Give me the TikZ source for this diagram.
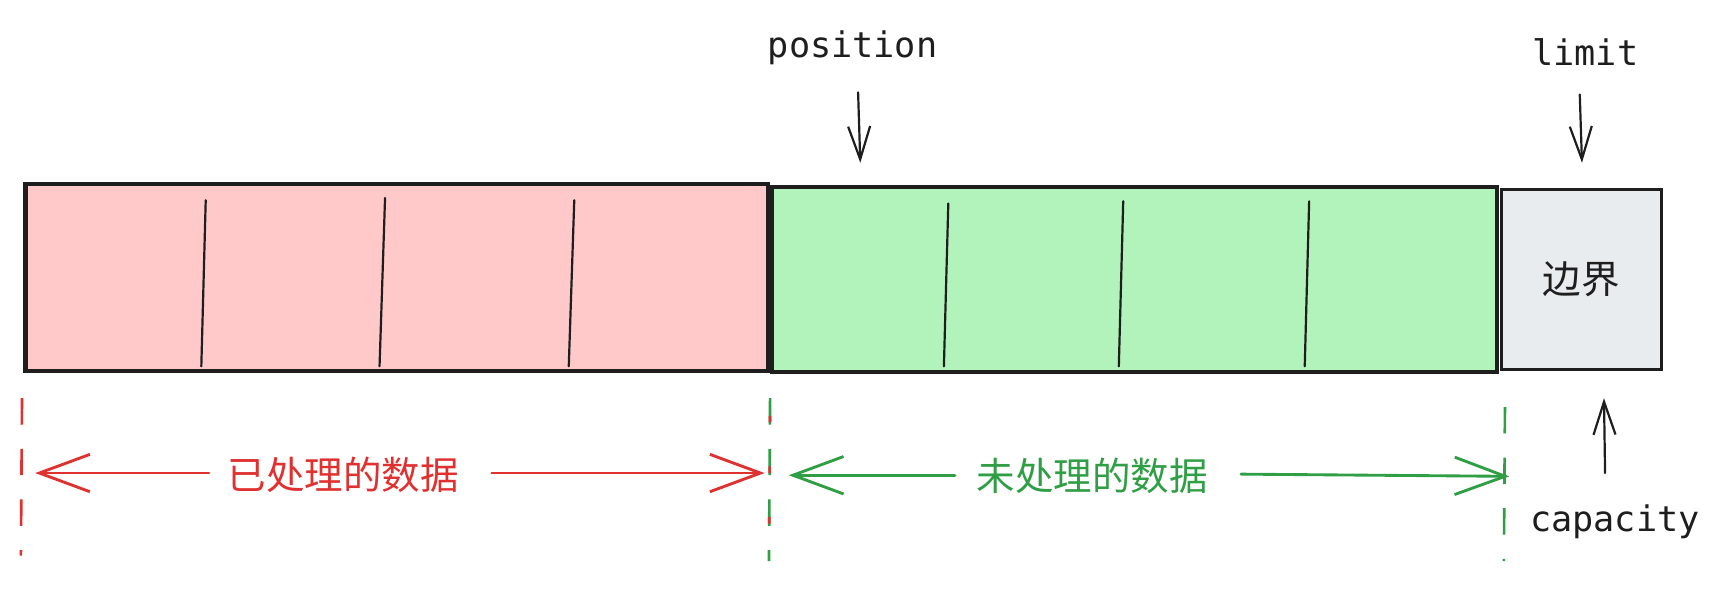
\documentclass[tikz,border=0pt]{standalone}
\usepackage{fontspec}
\newfontfamily\cjk{Noto Sans CJK SC}
\newfontfamily\monof{DejaVu Sans Mono}
\usetikzlibrary{arrows.meta}
\definecolor{ink}{HTML}{1E1E1E}
\definecolor{redink}{HTML}{E03131}
\definecolor{greenink}{HTML}{2F9E44}
\definecolor{redfill}{HTML}{FFC9C9}
\definecolor{greenfill}{HTML}{B2F2BB}
\definecolor{grayfill}{HTML}{E9ECEF}
\tikzset{
  cell/.style={draw=ink, line width=1pt, inner sep=0pt, anchor=center},
  divider/.style={draw=ink, line width=0.5pt, line cap=round},
  monolabel/.style={font=\monof\fontsize{8}{9}\selectfont, text=ink, inner sep=0pt, anchor=base},
  cjklabel/.style={font=\cjk\fontsize{8.75}{10}\selectfont, inner sep=0pt, anchor=center},
  pointer/.style={draw=ink, line width=0.5pt, line cap=round, -{Straight Barb[length=7.5pt,width=5pt,line width=0.5pt]}},
  span/.style={line width=0.65pt, line cap=round, -{Straight Barb[length=11.5pt,width=8.5pt,line width=0.65pt]}},
  guide/.style={line width=0.6pt, dash pattern=on 6pt off 5.5pt}
}
\begin{document}
\begin{tikzpicture}[x=0.25pt,y=-0.25pt]
\useasboundingbox (0,0) rectangle (1568,536.3);
% boxes
\node[cell, fill=redfill, minimum width=168.75pt, minimum height=42.5pt] (done) at (360.5,252) {};
\node[cell, fill=greenfill, minimum width=164.75pt, minimum height=42pt] (todo) at (1031.5,254) {};
\node[cell, fill=grayfill, line width=0.6pt, minimum width=36.25pt, minimum height=41pt] (edge) at (1437.5,254) {};
\node[cjklabel, text=ink] (edgetxt) at (edge.center) {边界};
% dividers
\draw[divider] (187,182) -- (183,333);
\draw[divider] (350,180) -- (345,333);
\draw[divider] (522,182) -- (517,333);
\draw[divider] (862,185) -- (858,333);
\draw[divider] (1021,183) -- (1017,333);
\draw[divider] (1190,183) -- (1186,333);
% pointer labels
\node[monolabel] (pos) at (775,52) {position};
\node[monolabel] (lim) at (1441,60) {limit};
\node[monolabel] (cap) at (1468,483) {capacity};
\coordinate (posA) at (780,84);
\coordinate (posB) at (782,148);
\coordinate (limA) at (1436,86);
\coordinate (limB) at (1438,148);
\coordinate (capA) at (1459,430);
\coordinate (capB) at (1458,362);
\draw[pointer] (posA) -- (posB);
\draw[pointer] (limA) -- (limB);
\draw[pointer] (capA) -- (capB);
% guides
\coordinate (g1a) at (20,362); \coordinate (g1b) at (19,505);
\coordinate (g2a) at (700,362); \coordinate (g2b) at (699,510);
\coordinate (g3a) at (1368,370); \coordinate (g3b) at (1367,510);
\draw[guide, draw=redink] (g1a) -- (g1b);
\draw[guide, draw=greenink] (g2a) -- (g2b);
\draw[guide, draw=redink, dash pattern=on 1.5pt off 10pt, dash phase=-4pt] (g2a) -- (g2b);
\draw[guide, draw=greenink] (g3a) -- (g3b);
% spans
\node[cjklabel, text=redink] (donetxt) at (312,432) {已处理的数据};
\node[cjklabel, text=greenink] (todotxt) at (993,433) {未处理的数据};
\coordinate (r1) at (32,430);
\coordinate (r2) at (695,430);
\coordinate (gA) at (717,432);
\coordinate (gB) at (1372,433);
\draw[span, draw=redink] (190,430) -- (r1);
\draw[span, draw=redink] (447,430) -- (r2);
\draw[span, draw=greenink] (868,432) -- (gA);
\draw[span, draw=greenink] (1128,431) -- (gB);
\end{tikzpicture}
\end{document}
